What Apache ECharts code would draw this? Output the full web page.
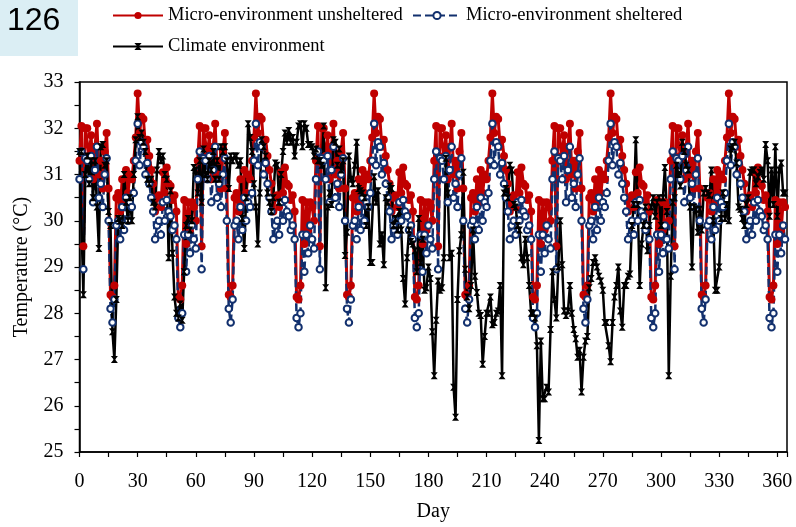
<!DOCTYPE html>
<html>
<head>
<meta charset="utf-8">
<script src="https://cdn.jsdelivr.net/npm/echarts@6/dist/echarts.min.js"></script>
<style>
html, body { margin: 0; padding: 0; background: #fff; }
#chart { width: 796px; height: 527px; }
</style>
</head>
<body>
<div id="chart"></div>
<script>
// day-by-day temperatures, day 0 .. 364
var microUnsheltered = [
  31.3, 32.05, 29.45, 32.0, 32.0, 31.4, 31.85, 30.9, 31.6, 32.1, 31.0, 31.3, 30.7, 31.5, 31.9, 30.7, 28.4, 28.35, 28.6, 30.5, 30.6, 30.2, 30.9, 30.4, 31.1, 30.6, 31.0, 30.9, 31.3, 31.8, 32.75, 31.9, 32.25, 32.2, 31.6, 31.75, 31.4, 31.1, 30.8, 30.2, 30.5, 30.55, 30.3, 31.05, 30.6, 31.15, 30.8, 30.75, 30.45, 30.55, 30.2, 28.35, 28.3, 28.6, 30.45, 29.5, 30.4, 29.8, 30.4, 30.3, 30.0,
  31.3, 32.05, 29.45, 32.0, 32.0, 31.4, 31.85, 30.9, 31.6, 32.1, 31.0, 31.3, 30.7, 31.5, 31.9, 30.7, 28.4, 28.35, 28.6, 30.5, 30.6, 30.2, 30.9, 30.4, 31.1, 30.6, 31.0, 30.9, 31.3, 31.8, 32.75, 31.9, 32.25, 32.2, 31.6, 31.75, 31.4, 31.1, 30.8, 30.2, 30.5, 30.55, 30.3, 31.05, 30.6, 31.15, 30.8, 30.75, 30.45, 30.55, 30.2, 28.35, 28.3, 28.6, 30.45, 29.5, 30.4, 29.8, 30.4, 30.3, 30.0,
  31.3, 32.05, 29.45, 32.0, 32.0, 31.4, 31.85, 30.9, 31.6, 32.1, 31.0, 31.3, 30.7, 31.5, 31.9, 30.7, 28.4, 28.35, 28.6, 30.5, 30.6, 30.2, 30.9, 30.4, 31.1, 30.6, 31.0, 30.9, 31.3, 31.8, 32.75, 31.9, 32.25, 32.2, 31.6, 31.75, 31.4, 31.1, 30.8, 30.2, 30.5, 30.55, 30.3, 31.05, 30.6, 31.15, 30.8, 30.75, 30.45, 30.55, 30.2, 28.35, 28.3, 28.6, 30.45, 29.5, 30.4, 29.8, 30.4, 30.3, 30.0,
  31.3, 32.05, 29.45, 32.0, 32.0, 31.4, 31.85, 30.9, 31.6, 32.1, 31.0, 31.3, 30.7, 31.5, 31.9, 30.7, 28.4, 28.35, 28.6, 30.5, 30.6, 30.2, 30.9, 30.4, 31.1, 30.6, 31.0, 30.9, 31.3, 31.8, 32.75, 31.9, 32.25, 32.2, 31.6, 31.75, 31.4, 31.1, 30.8, 30.2, 30.5, 30.55, 30.3, 31.05, 30.6, 31.15, 30.8, 30.75, 30.45, 30.55, 30.2, 28.35, 28.3, 28.6, 30.45, 29.5, 30.4, 29.8, 30.4, 30.3, 30.0,
  31.3, 32.05, 29.45, 32.0, 32.0, 31.4, 31.85, 30.9, 31.6, 32.1, 31.0, 31.3, 30.7, 31.5, 31.9, 30.7, 28.4, 28.35, 28.6, 30.5, 30.6, 30.2, 30.9, 30.4, 31.1, 30.6, 31.0, 30.9, 31.3, 31.8, 32.75, 31.9, 32.25, 32.2, 31.6, 31.75, 31.4, 31.1, 30.8, 30.2, 30.5, 30.55, 30.3, 31.05, 30.6, 31.15, 30.8, 30.75, 30.45, 30.55, 30.2, 28.35, 28.3, 28.6, 30.45, 29.5, 30.4, 29.8, 30.4, 30.3, 30.0,
  31.3, 32.05, 29.45, 32.0, 32.0, 31.4, 31.85, 30.9, 31.6, 32.1, 31.0, 31.3, 30.7, 31.5, 31.9, 30.7, 28.4, 28.35, 28.6, 30.5, 30.6, 30.2, 30.9, 30.4, 31.1, 30.6, 31.0, 30.9, 31.3, 31.8, 32.75, 31.9, 32.25, 32.2, 31.6, 31.75, 31.4, 31.1, 30.8, 30.2, 30.5, 30.55, 30.3, 31.05, 30.6, 31.15, 30.8, 30.75, 30.45, 30.55, 30.2, 28.35, 28.3, 28.6, 30.45, 29.5, 30.4, 29.8, 30.4, 30.3
];
var microSheltered = [
  30.9, 31.5, 28.95, 31.35, 31.3, 30.9, 31.4, 30.4, 31.1, 31.6, 30.5, 30.8, 30.3, 31.0, 31.35, 30.0, 28.1, 27.8, 28.3, 29.9, 30.0, 29.6, 30.3, 29.8, 30.5, 30.0, 30.4, 30.3, 30.6, 31.3, 32.1, 31.2, 31.7, 31.6, 31.0, 31.25, 30.8, 30.5, 30.2, 29.6, 29.9, 30.0, 29.7, 30.4, 30.0, 30.45, 30.2, 30.1, 29.8, 29.9, 29.6, 27.9, 27.7, 28.0, 29.7, 28.9, 29.7, 29.3, 29.9, 29.6, 29.4,
  30.9, 31.5, 28.95, 31.35, 31.3, 30.9, 31.4, 30.4, 31.1, 31.6, 30.5, 30.8, 30.3, 31.0, 31.35, 30.0, 28.1, 27.8, 28.3, 29.9, 30.0, 29.6, 30.3, 29.8, 30.5, 30.0, 30.4, 30.3, 30.6, 31.3, 32.1, 31.2, 31.7, 31.6, 31.0, 31.25, 30.8, 30.5, 30.2, 29.6, 29.9, 30.0, 29.7, 30.4, 30.0, 30.45, 30.2, 30.1, 29.8, 29.9, 29.6, 27.9, 27.7, 28.0, 29.7, 28.9, 29.7, 29.3, 29.9, 29.6, 29.4,
  30.9, 31.5, 28.95, 31.35, 31.3, 30.9, 31.4, 30.4, 31.1, 31.6, 30.5, 30.8, 30.3, 31.0, 31.35, 30.0, 28.1, 27.8, 28.3, 29.9, 30.0, 29.6, 30.3, 29.8, 30.5, 30.0, 30.4, 30.3, 30.6, 31.3, 32.1, 31.2, 31.7, 31.6, 31.0, 31.25, 30.8, 30.5, 30.2, 29.6, 29.9, 30.0, 29.7, 30.4, 30.0, 30.45, 30.2, 30.1, 29.8, 29.9, 29.6, 27.9, 27.7, 28.0, 29.7, 28.9, 29.7, 29.3, 29.9, 29.6, 29.4,
  30.9, 31.5, 28.95, 31.35, 31.3, 30.9, 31.4, 30.4, 31.1, 31.6, 30.5, 30.8, 30.3, 31.0, 31.35, 30.0, 28.1, 27.8, 28.3, 29.9, 30.0, 29.6, 30.3, 29.8, 30.5, 30.0, 30.4, 30.3, 30.6, 31.3, 32.1, 31.2, 31.7, 31.6, 31.0, 31.25, 30.8, 30.5, 30.2, 29.6, 29.9, 30.0, 29.7, 30.4, 30.0, 30.45, 30.2, 30.1, 29.8, 29.9, 29.6, 27.9, 27.7, 28.0, 29.7, 28.9, 29.7, 29.3, 29.9, 29.6, 29.4,
  30.9, 31.5, 28.95, 31.35, 31.3, 30.9, 31.4, 30.4, 31.1, 31.6, 30.5, 30.8, 30.3, 31.0, 31.35, 30.0, 28.1, 27.8, 28.3, 29.9, 30.0, 29.6, 30.3, 29.8, 30.5, 30.0, 30.4, 30.3, 30.6, 31.3, 32.1, 31.2, 31.7, 31.6, 31.0, 31.25, 30.8, 30.5, 30.2, 29.6, 29.9, 30.0, 29.7, 30.4, 30.0, 30.45, 30.2, 30.1, 29.8, 29.9, 29.6, 27.9, 27.7, 28.0, 29.7, 28.9, 29.7, 29.3, 29.9, 29.6, 29.4,
  30.9, 31.5, 28.95, 31.35, 31.3, 30.9, 31.4, 30.4, 31.1, 31.6, 30.5, 30.8, 30.3, 31.0, 31.35, 30.0, 28.1, 27.8, 28.3, 29.9, 30.0, 29.6, 30.3, 29.8, 30.5, 30.0, 30.4, 30.3, 30.6, 31.3, 32.1, 31.2, 31.7, 31.6, 31.0, 31.25, 30.8, 30.5, 30.2, 29.6, 29.9, 30.0, 29.7, 30.4, 30.0, 30.45, 30.2, 30.1, 29.8, 29.9, 29.6, 27.9, 27.7, 28.0, 29.7, 28.9, 29.7, 29.3, 29.9, 29.6
];
var climate = [
  31.5, 31.5, 28.4, 31.0, 31.4, 30.8, 31.3, 30.5, 31.3, 30.3,
  29.4, 31.6, 31.65, 31.2, 31.3, 30.2, 29.9, 27.6, 27.0, 28.3,
  30.05, 30.0, 29.9, 31.0, 30.4, 30.0, 30.5, 30.0, 31.0, 31.75,
  32.25, 31.8, 31.9, 31.7, 31.5, 30.9, 30.8, 30.9, 30.4, 30.3,
  31.1, 31.5, 31.3, 31.4, 31.0, 30.9, 29.2, 30.65, 29.3, 28.35,
  28.0, 27.9, 28.2, 27.85, 28.9, 29.9, 30.05, 29.8, 30.0, 31.15,
  31.1, 30.6, 31.3, 30.4, 31.55, 31.0, 30.9, 31.3, 31.1, 31.5,
  30.9, 31.3, 30.9, 31.6, 31.5, 31.6, 31.3, 30.7, 31.4, 31.3,
  31.4, 31.4, 31.2, 31.3, 30.05, 29.4, 30.5, 32.1, 31.8, 31.5,
  30.8, 30.3, 29.5, 30.6, 31.75, 31.6, 31.4, 30.6, 30.4, 30.2,
  30.5, 31.25, 31.2, 30.4, 31.0, 31.5, 31.9, 31.7, 31.95, 31.7,
  31.8, 31.4, 31.7, 32.05, 32.1, 31.6, 32.1, 32.0, 31.65, 31.65,
  31.6, 31.4, 31.55, 31.3, 31.3, 31.2, 32.05, 28.55, 30.3, 30.6,
  30.35, 31.75, 31.7, 31.2, 31.55, 31.1, 31.3, 29.25, 29.75, 31.4,
  30.9, 30.8, 31.2, 31.7, 30.7, 30.65, 30.6, 30.5, 29.9, 30.3,
  29.1, 29.1, 30.95, 30.4, 30.65, 29.5, 29.7, 29.05, 30.5, 30.4,
  30.75, 30.7, 29.9, 30.05, 29.8, 30.2, 29.8, 28.75, 28.2, 29.2,
  29.8, 29.55, 29.5, 29.35, 28.9, 30.05, 29.1, 29.6, 28.5, 28.55,
  29.0, 28.75, 27.6, 26.65, 27.85, 28.7, 28.5, 28.55, 29.2, 31.35,
  30.6, 29.2, 29.3, 26.4, 25.75, 28.3, 29.35, 29.7, 31.05, 28.95,
  28.35, 28.1, 28.6, 29.8, 28.8, 28.45, 28.0, 27.95, 26.9, 27.5,
  28.0, 28.0, 28.35, 27.75, 27.8, 28.0, 28.05, 28.6, 26.65, 30.6,
  30.7, 30.5, 31.2, 31.1, 30.35, 30.3, 29.9, 29.8, 29.2, 29.05,
  29.6, 29.2, 28.6, 28.0, 28.0, 27.9, 27.3, 25.25, 27.4, 26.15,
  26.15, 26.4, 26.3, 27.65, 28.9, 28.3, 27.9, 29.0, 30.0, 29.05,
  28.05, 27.95, 28.05, 28.6, 28.0, 27.65, 27.45, 27.05, 27.2, 26.3,
  27.05, 27.4, 27.5, 28.55, 28.75, 29.1, 29.2, 29.0, 28.8, 28.7,
  28.5, 27.8, 27.8, 27.3, 26.95, 27.8, 28.35, 28.6, 29.0, 28.05,
  27.7, 28.6, 28.6, 28.8, 28.85, 29.9, 30.35, 31.75, 30.35, 28.6,
  29.5, 29.9, 30.3, 29.35, 29.9, 30.3, 30.5, 30.1, 30.4, 30.5,
  29.9, 30.5, 31.15, 30.2, 26.65, 28.8, 30.4, 30.5, 31.2, 31.0,
  30.75, 31.7, 31.5, 31.2, 31.1, 30.3, 29.0, 30.3, 30.25, 29.75,
  30.25, 29.8, 30.6, 30.7, 30.6, 30.55, 31.1, 30.0, 28.5, 28.5,
  29.0, 30.05, 30.6, 30.05, 30.35, 30.0, 31.55, 31.6, 31.7, 31.25,
  30.3, 30.25, 30.05, 29.9, 30.35, 30.5, 31.05, 31.1, 31.1, 30.8,
  30.95, 31.05, 31.1, 30.9, 31.65, 31.3, 30.1, 31.1, 30.35, 31.6,
  30.1, 31.1, 31.25, 30.6, 30.6
];
var seriesNames = ['Micro-environment unsheltered', 'Micro-environment sheltered', 'Climate environment'];
var yTicks = [25, 26, 27, 28, 29, 30, 31, 32, 33];
var xTicks = [0, 30, 60, 90, 120, 150, 180, 210, 240, 270, 300, 330, 360];
var dayMax = 365;

function toPoints(values) {
    return values.map(function (v, i) { return [i, v]; });
}

var chartDom = document.getElementById('chart');
var myChart = echarts.init(chartDom);

var serif = 'Liberation Serif';
var legendText = { fontFamily: serif, fontSize: 18.5, color: '#000' };

var option = {
    animation: false,
    graphic: [
        {
            type: 'rect',
            left: 0, top: 0,
            shape: { width: 78, height: 56 },
            style: { fill: '#dbeef4' }
        },
        {
            type: 'text',
            left: 7, top: 5,
            style: { text: '126', font: '32px "Liberation Sans"', fill: '#000' }
        }
    ],
    legend: [
        {
            data: [seriesNames[0]], left: 112, top: 6, padding: 0,
            itemWidth: 50, itemHeight: 9, textStyle: legendText
        },
        {
            data: [seriesNames[1]], left: 412, top: 6, padding: 0,
            itemWidth: 48, itemHeight: 9, textStyle: legendText
        },
        {
            data: [seriesNames[2]], left: 112, top: 37, padding: 0,
            itemWidth: 50, itemHeight: 9, textStyle: legendText
        }
    ],
    grid: {
        left: 79.5,
        right: 9,
        top: 82,
        bottom: 70,
        show: true,
        borderColor: '#000',
        borderWidth: 1.5
    },
    xAxis: {
        type: 'value',
        min: xTicks[0],
        max: dayMax,
        interval: 30,
        name: 'Day',
        nameLocation: 'middle',
        nameGap: 50,
        nameTextStyle: { fontFamily: serif, fontSize: 20, color: '#000' },
        axisLine: { lineStyle: { color: '#000', width: 1.5 } },
        axisTick: { length: 5, lineStyle: { color: '#000', width: 1.2 } },
        minorTick: { show: true, splitNumber: 2, length: 5, lineStyle: { color: '#000', width: 1.2 } },
        splitLine: { show: false },
        axisLabel: {
            fontFamily: serif, fontSize: 20, color: '#000', margin: 20,
            showMaxLabel: false,
            formatter: function (v) { return xTicks.indexOf(v) >= 0 ? String(v) : ''; }
        }
    },
    yAxis: {
        type: 'value',
        min: yTicks[0],
        max: yTicks[yTicks.length - 1],
        interval: 1,
        name: 'Temperature (\u00B0C)',
        nameLocation: 'middle',
        nameGap: 48,
        nameTextStyle: { fontFamily: serif, fontSize: 20, color: '#000' },
        axisLine: { show: true, lineStyle: { color: '#000', width: 1.5 } },
        axisTick: { show: true, length: 5, lineStyle: { color: '#000', width: 1.2 } },
        minorTick: { show: true, splitNumber: 2, length: 5, lineStyle: { color: '#000', width: 1.2 } },
        splitLine: { show: false },
        axisLabel: { fontFamily: serif, fontSize: 20, color: '#000', margin: 16 }
    },
    series: [
        {
            name: seriesNames[0],
            type: 'line',
            data: toPoints(microUnsheltered),
            symbol: 'circle',
            symbolSize: 8,
            showAllSymbol: true,
            itemStyle: { color: '#c00000' },
            lineStyle: { color: '#c00000', width: 3 }
        },
        {
            name: seriesNames[1],
            type: 'line',
            data: toPoints(microSheltered),
            symbol: 'emptyCircle',
            symbolSize: 6.5,
            showAllSymbol: true,
            itemStyle: { color: '#12306e', borderWidth: 2 },
            lineStyle: { color: '#12306e', width: 2.5, type: [8, 4] }
        },
        {
            name: seriesNames[2],
            type: 'line',
            data: toPoints(climate),
            symbol: 'path://M0,0H10L6,5L10,10H0L4,5Z',
            symbolSize: 7,
            showAllSymbol: true,
            itemStyle: { color: '#000' },
            lineStyle: { color: '#000', width: 2.5 }
        }
    ]
};
myChart.setOption(option);
</script>
</body>
</html>
